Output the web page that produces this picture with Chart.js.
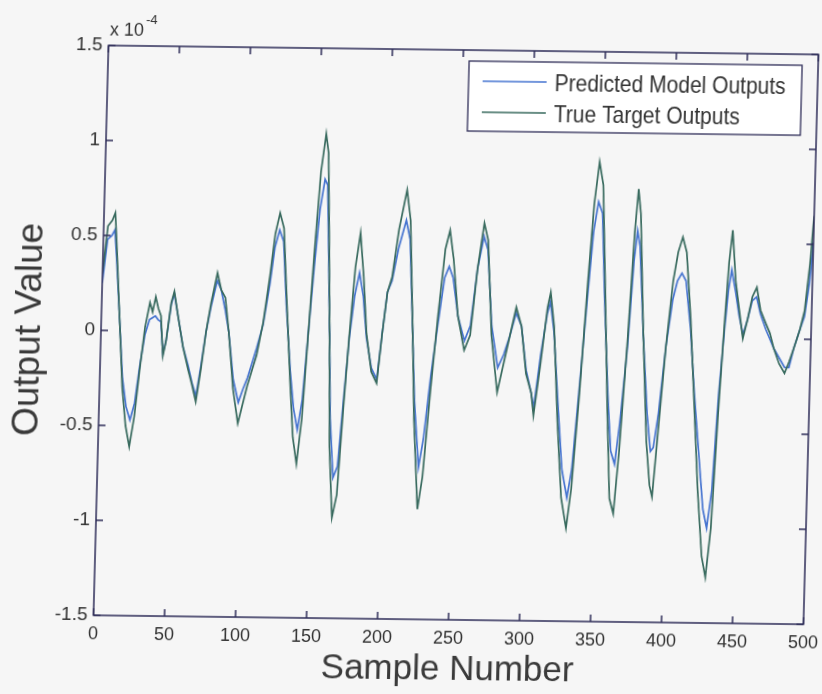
<!DOCTYPE html>
<html>
<head>
<meta charset="utf-8">
<script src="https://cdn.jsdelivr.net/npm/chart.js@4.4.0/dist/chart.umd.min.js"></script>
<style>
    html, body { margin: 0; padding: 0; background: #f6f6f6; overflow: hidden; width: 822px; height: 694px; }
    /* the scanned figure is slightly tilted and skewed */
    #wrap { width: 860px; height: 694px; transform: matrix(1, 0.0127, -0.0263, 1, 0, 0); transform-origin: 456px 335px; }
</style>
</head>
<body>
<div id="wrap"><canvas id="chart" width="860" height="694"></canvas></div>
<script>
// values in units of 1e-4
const sampleIdx = [
    0, 3, 6, 8, 10, 13, 16, 19, 22, 25,
    28, 31, 34, 36, 38, 40, 42, 44, 46, 49,
    51, 54, 58, 62, 65, 68, 71, 74, 77, 81,
    84, 87, 90, 94, 98, 101, 104, 107, 110, 114,
    118, 121, 124, 127, 130, 134, 137, 140, 143, 146,
    149, 152, 155, 157, 159, 161, 163, 166, 169, 172,
    175, 178, 181, 184, 187, 191, 195, 198, 201, 204,
    208, 213, 216, 219, 222, 226, 229, 233, 237, 241,
    244, 247, 251, 256, 260, 264, 268, 271, 275, 280,
    284, 288, 292, 296, 300, 304, 306, 310, 314, 316,
    319, 323, 327, 331, 334, 338, 342, 345, 348, 351,
    354, 358, 361, 364, 367, 371, 374, 376, 378, 382,
    386, 389, 391, 394, 398, 402, 405, 408, 411, 415,
    419, 423, 427, 430, 433, 436, 439, 441, 443, 446,
    449, 452, 455, 458, 461, 464, 468, 471, 474, 478,
    482, 485, 488, 492, 495, 498, 500
];
const trueOut = [
    0.30, 0.55, 0.58, 0.62, 0.40, 0.05, -0.30, -0.50, -0.61, -0.45,
    -0.20, 0.02, 0.15, 0.10, 0.18, 0.12, 0.08, -0.13, -0.05, 0.15,
    0.21, 0.08, -0.08, -0.20, -0.28, -0.37, -0.20, 0.00, 0.15, 0.31,
    0.22, 0.18, 0.00, -0.30, -0.48, -0.38, -0.28, -0.20, -0.12, 0.05,
    0.30, 0.52, 0.63, 0.55, 0.20, -0.25, -0.55, -0.69, -0.45, 0.00,
    0.45, 0.85, 1.05, 0.95, 0.50, 0.00, -0.60, -0.97, -0.85, -0.40,
    0.00, 0.35, 0.53, 0.30, 0.00, -0.20, -0.26, 0.00, 0.22, 0.30,
    0.55, 0.76, 0.60, 0.10, -0.45, -0.92, -0.75, -0.30, 0.10, 0.45,
    0.55, 0.40, 0.10, -0.08, 0.00, 0.35, 0.59, 0.50, 0.00, -0.30,
    -0.15, 0.00, 0.15, 0.05, -0.20, -0.30, -0.42, -0.15, 0.15, 0.23,
    0.05, -0.45, -0.85, -1.01, -0.80, -0.30, 0.30, 0.70, 0.92, 0.80,
    0.30, -0.40, -0.85, -0.93, -0.60, 0.00, 0.55, 0.78, 0.65, 0.00,
    -0.55, -0.78, -0.84, -0.50, -0.05, 0.30, 0.45, 0.53, 0.45, 0.10,
    -0.35, -0.80, -1.15, -1.26, -1.00, -0.40, 0.10, 0.40, 0.57, 0.30,
    0.15, 0.00, 0.10, 0.22, 0.27, 0.15, 0.08, 0.03, -0.05, -0.13,
    -0.18, -0.12, -0.05, 0.05, 0.15, 0.40, 0.65
];
const predOut = [
    0.25, 0.48, 0.50, 0.53, 0.35, 0.05, -0.25, -0.40, -0.47, -0.38,
    -0.18, -0.02, 0.06, 0.07, 0.08, 0.06, 0.05, -0.12, -0.05, 0.14,
    0.20, 0.08, -0.08, -0.18, -0.27, -0.34, -0.18, 0.00, 0.13, 0.27,
    0.22, 0.12, 0.00, -0.25, -0.37, -0.30, -0.24, -0.16, -0.08, 0.04,
    0.25, 0.45, 0.54, 0.48, 0.15, -0.20, -0.40, -0.51, -0.35, 0.00,
    0.35, 0.65, 0.81, 0.78, 0.40, 0.00, -0.45, -0.76, -0.70, -0.35,
    -0.02, 0.20, 0.32, 0.20, -0.02, -0.18, -0.24, 0.00, 0.22, 0.28,
    0.45, 0.60, 0.50, 0.08, -0.35, -0.70, -0.55, -0.22, 0.05, 0.30,
    0.36, 0.30, 0.10, -0.03, 0.05, 0.35, 0.52, 0.45, 0.05, -0.17,
    -0.10, 0.00, 0.12, 0.05, -0.18, -0.30, -0.38, -0.10, 0.12, 0.18,
    0.02, -0.35, -0.70, -0.85, -0.70, -0.25, 0.22, 0.55, 0.71, 0.65,
    0.20, -0.30, -0.60, -0.67, -0.45, -0.05, 0.40, 0.56, 0.48, 0.00,
    -0.40, -0.60, -0.58, -0.40, -0.05, 0.20, 0.30, 0.34, 0.30, 0.05,
    -0.30, -0.60, -0.90, -1.00, -0.80, -0.30, 0.05, 0.25, 0.36, 0.25,
    0.12, 0.02, 0.10, 0.20, 0.22, 0.13, 0.05, 0.00, -0.05, -0.10,
    -0.15, -0.15, -0.05, 0.05, 0.12, 0.30, 0.51
];
const xTicks = [0, 50, 100, 150, 200, 250, 300, 350, 400, 450, 500];
const yTicks = [-1.5, -1, -0.5, 0, 0.5, 1, 1.5];
const seriesLabels = ['Predicted Model Outputs', 'True Target Outputs'];

const axisColor = '#2e2d58';
const textColor = '#333333';
const predColor = '#4674d0';
const trueColor = '#386a5e';
const sansFont = '"Liberation Sans", Arial, sans-serif';

function toPoints(vals) {
    return sampleIdx.map((s, i) => ({ x: s, y: vals[i] }));
}

// box, inward ticks, exponent label and boxed legend (matlab style)
const matlabFrame = {
    id: 'matlabFrame',
    afterDraw(chart) {
        const { ctx, chartArea: a, scales: { x, y } } = chart;
        ctx.save();
        ctx.strokeStyle = axisColor;
        ctx.lineWidth = 1.5;
        ctx.strokeRect(a.left, a.top, a.right - a.left, a.bottom - a.top);

        const tl = 7;
        ctx.beginPath();
        xTicks.forEach(v => {
            const px = x.getPixelForValue(v);
            ctx.moveTo(px, a.bottom); ctx.lineTo(px, a.bottom - tl);
            ctx.moveTo(px, a.top); ctx.lineTo(px, a.top + tl);
        });
        yTicks.forEach(v => {
            const py = y.getPixelForValue(v);
            ctx.moveTo(a.left, py); ctx.lineTo(a.left + tl, py);
            ctx.moveTo(a.right, py); ctx.lineTo(a.right - tl, py);
        });
        ctx.stroke();

        // x 10^-4
        ctx.fillStyle = textColor;
        ctx.textBaseline = 'middle';
        ctx.textAlign = 'left';
        ctx.font = '18px ' + sansFont;
        ctx.fillText('x 10', a.left + 1, a.top - 15);
        const w = ctx.measureText('x 10').width;
        ctx.font = '13px ' + sansFont;
        ctx.fillText('-4', a.left + 3 + w, a.top - 26);

        // legend
        const bw = 333, bh = 70;
        const bx = a.right - 16 - bw, by = a.top + 11;
        ctx.fillStyle = '#ffffff';
        ctx.fillRect(bx, by, bw, bh);
        ctx.lineWidth = 1.3;
        ctx.strokeStyle = axisColor;
        ctx.strokeRect(bx, by, bw, bh);
        chart.data.datasets.forEach((ds, i) => {
            const ry = by + 20 + i * 31;
            ctx.strokeStyle = ds.borderColor;
            ctx.lineWidth = 1.6;
            ctx.beginPath();
            ctx.moveTo(bx + 14, ry); ctx.lineTo(bx + 78, ry);
            ctx.stroke();
            // text is condensed in the scan
            ctx.save();
            ctx.translate(bx + 86, ry + 2);
            ctx.scale(0.875, 1);
            ctx.fillStyle = textColor;
            ctx.font = '24px ' + sansFont;
            ctx.fillText(ds.label, 0, 0);
            ctx.restore();
        });
        ctx.restore();
    }
};

const ctx = document.getElementById('chart');
new Chart(ctx, {
    type: 'line',
    data: {
        datasets: [
            {
                label: seriesLabels[0],
                data: toPoints(predOut),
                borderColor: predColor,
                borderWidth: 1.7,
                pointRadius: 0,
                tension: 0,
                order: 1
            },
            {
                label: seriesLabels[1],
                data: toPoints(trueOut),
                borderColor: trueColor,
                borderWidth: 1.7,
                pointRadius: 0,
                tension: 0,
                order: 0
            }
        ]
    },
    options: {
        responsive: false,
        animation: false,
        devicePixelRatio: 1,
        layout: { padding: { top: 50, right: 49, left: 0, bottom: 0 } },
        plugins: {
            legend: { display: false },
            tooltip: { enabled: false }
        },
        scales: {
            x: {
                type: 'linear',
                min: 0,
                max: 500,
                afterBuildTicks: s => { s.ticks = xTicks.map(v => ({ value: v })); },
                afterFit: s => { s.height = 74; s.paddingLeft = 0; s.paddingRight = 0; },
                grid: { display: false, drawTicks: false },
                border: { display: false },
                ticks: {
                    color: textColor,
                    padding: 8,
                    maxRotation: 0,
                    font: { family: sansFont, size: 18 }
                },
                title: {
                    display: true,
                    text: 'Sample Number',
                    color: '#3a3a3a',
                    padding: { top: 0, bottom: 3 },
                    font: { family: sansFont, size: 35 }
                }
            },
            y: {
                min: -1.5,
                max: 1.5,
                afterBuildTicks: s => { s.ticks = yTicks.map(v => ({ value: v })); },
                afterFit: s => { s.width = 101; s.paddingTop = 0; s.paddingBottom = 0; },
                grid: { display: false, drawTicks: false },
                border: { display: false },
                ticks: {
                    color: textColor,
                    padding: 6,
                    callback: v => String(v),
                    font: { family: sansFont, size: 19 }
                },
                title: {
                    display: true,
                    text: 'Output Value',
                    color: '#3a3a3a',
                    padding: { top: 8, bottom: 0 },
                    font: { family: sansFont, size: 37 }
                }
            }
        }
    },
    plugins: [matlabFrame]
});
</script>
</body>
</html>
